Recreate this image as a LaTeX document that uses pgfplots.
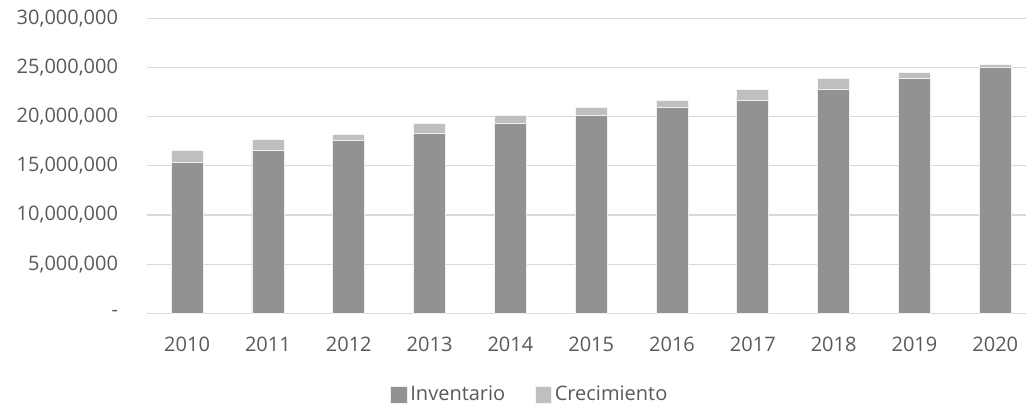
\documentclass[border=0pt]{standalone}
\usepackage{fontspec}
\setmainfont{Open Sans}
\usepackage{pgfplots}
\pgfplotsset{compat=1.18}
\definecolor{txt}{HTML}{595959}
\definecolor{gridc}{HTML}{D9D9D9}
\definecolor{inv}{HTML}{929292}
\definecolor{cre}{HTML}{BFBFBF}
\begin{document}
\fontsize{15pt}{18pt}\selectfont
\begin{tikzpicture}
\path[use as bounding box] (-110.025pt,-72.525pt) rectangle (659.475pt,235pt);
\begin{axis}[
  at={(0,0)},anchor=south west,
  scale only axis,width=659.475pt,height=221.25pt,
  ybar stacked,bar width=24pt,
  xmin=-0.5,xmax=10.38,ymin=0,ymax=30000000,
  xtick={0,...,10},
  xticklabels={2010,2011,2012,2013,2014,2015,2016,2017,2018,2019,2020},
  ytick={0,5000000,10000000,15000000,20000000,25000000,30000000},
  yticklabels={-,{5,000,000},{10,000,000},{15,000,000},{20,000,000},{25,000,000},{30,000,000}},
  scaled y ticks=false,
  major tick length=0pt,
  xmajorgrids=false,ymajorgrids=true,
  grid style={draw=gridc,line width=0.9pt},
  axis line style={draw=none},
  tick label style={font=\fontsize{15pt}{18pt}\selectfont,text=txt},
  yticklabel style={inner sep=0pt,xshift=-21.3pt},
  xticklabel style={inner sep=0pt,yshift=-17.5pt},
  legend columns=-1,
  legend style={draw=none,fill=none,at={(0.436,-0.277)},anchor=center,
    font=\fontsize{15pt}{18pt}\selectfont,text=txt,inner sep=0pt,
    /tikz/every even column/.append style={column sep=20pt}},
  legend image code/.code={\fill[#1] (0pt,-6.3pt) rectangle (12.6pt,6.3pt);},
]
\addplot[fill=inv,draw=white!85!inv,line width=0.6pt] coordinates {
  (0,15390000) (1,16540000) (2,17620000) (3,18270000) (4,19300000)
  (5,20100000) (6,20910000) (7,21690000) (8,22740000) (9,23860000) (10,24980000)};
\addplot[fill=cre,draw=white!85!cre,line width=0.6pt] coordinates {
  (0,1150000) (1,1110000) (2,610000) (3,1050000) (4,840000)
  (5,810000) (6,780000) (7,1050000) (8,1160000) (9,680000) (10,340000)};
\draw[gridc,line width=0.9pt] (rel axis cs:0,0) -- (rel axis cs:1,0);
\legend{Inventario,Crecimiento}
\end{axis}
\end{tikzpicture}
\end{document}
